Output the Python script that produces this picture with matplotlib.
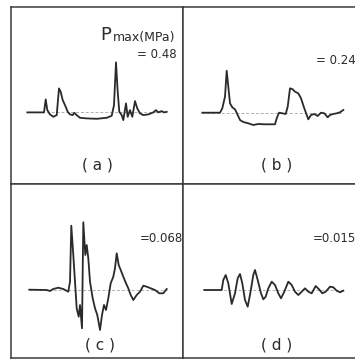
import matplotlib
matplotlib.use('Agg')
import numpy as np
import matplotlib.pyplot as plt

# Pressure traces
# t: time offset inside the panel, p: amplitude relative to the baseline
t_a = [16.3, 33, 34.7, 36.3, 39, 42.3, 45.7, 48, 49.7, 51.7, 54, 56.7, 59, 61.7,
       63.3, 65.7, 69, 75.7, 85.7, 95.7, 100.7, 103, 105, 106.7, 108.3, 110.7,
       112.3, 115, 116.7, 119, 121.3, 124, 126.3, 129, 132.3, 137.3, 142.3, 145,
       147.3, 150.7, 153, 155.7]
p_a = [0, 0, 13, 2.3, -2, -4.4, -2.7, 24, 20.6, 12.3, 7.3, 0.6, -2, -2.7,
       -0.4, -2.7, -5.4, -6, -6.4, -5.4, -3.4, 7.3, 50, 20.6, 0.6, -2.7,
       -7.7, 9, -4.4, 2.3, -4.4, 11.3, 4, -1, -2.7, -2, 0, 2.3,
       0, 1.3, 0, 0.6]

t_b = [19.3, 37, 39.3, 42, 43.7, 45.3, 47, 49.3, 52, 54.7, 57, 60.3, 65.3, 70.3,
       75.3, 82, 92, 93.7, 96, 99.3, 102.7, 104.7, 107, 109.7, 112, 115.3, 118,
       121.3, 125.3, 128, 131.3, 134.7, 138, 141.3, 144.7, 147, 150.3, 153.7,
       157, 160.3]
p_b = [0, 0, 4.4, 16, 42, 26, 9.4, 5.4, 3.4, -2.3, -7.3, -9.3, -10.6, -12.3,
       -11.3, -11.6, -11.6, -5.6, 0, -0.6, -1.3, 6, 24.4, 23.4, 21, 19.4, 14.4,
       4.4, -6.6, -2.3, -1.3, -3.3, 0, -0.6, -4.6, -2.3, -1.3, -0.6,
       0.4, 2.7]

t_c = [18.3, 35.7, 39, 42.3, 47.3, 52.3, 57.3, 59, 60.3, 62.3, 64, 65.7, 67.7,
       69, 71, 72.3, 74.3, 75.7, 77.3, 79, 81.7, 84, 86.3, 89, 91, 93, 95, 97.3,
       99.7, 102.3, 104, 105.7, 107.7, 109.7, 112.3, 115, 117.3, 119.7, 122.3,
       125.7, 129, 132.3, 135.7, 139.7, 144, 148.3, 152.3, 155.7]
p_c = [0, -0.3, -1.3, 0.7, 2, 0.7, -2, 8, 64, 34.7, 8, -18.6, -27,
       -15.3, -38.6, 67.4, 34.7, 44.7, 31.4, 8, -8.6, -18.6, -25.3, -40.3, -25.3,
       -15.3, -20.3, -8.6, 6.4, 13, 21.4, 36.4, 24.7, 19.7, 13, 6.4, 1.4, -5.3,
       -10.3, -5.3, -2, 4, 3, 1.4, -0.3, -3.6, -3.6, 0.7]

t_d = [21.3, 38.7, 40.3, 42.7, 45.3, 48.7, 52, 54.7, 57, 59.3, 62, 64.7, 67.3,
       70.3, 72, 74.7, 78, 80.3, 82.7, 85.3, 88.7, 92, 95.3, 98, 101.3, 105.3,
       108.7, 112, 115.3, 118.7, 122, 125.3, 128.7, 132.7, 136, 139.3, 142.7,
       147, 150.3, 153.7, 157, 160.3]
p_d = [0, 0, 10, 15, 6.7, -14, -3.3, 11.7, 16, 6.7, -10, -16.7, -3.3,
       15, 20, 10, -3.3, -9.3, -6.7, 1.7, 8.3, 5, -3.3, -8.3, -1.7, 8.3,
       5, -1.7, -5, -1.7, 1.7, -1.7, -3.3, 4, 0.7, -3.3, -1.7,
       3.3, 2.7, -0.7, -2.3, -0.7]

labels = ['( a )', '( b )', '( c )', '( d )']
pmax = ['= 0.48', '= 0.24', '=0.068', '=0.015']

W, H = 355, 359
fig = plt.figure(figsize=(W / 100, H / 100), dpi=100)
fig.patch.set_facecolor('white')

ink = '#2a2a2a'

def panel(x0, x1, y0, y1, base):
    # panel box in pixel units, base = pixel row of the zero line
    ax = fig.add_axes([x0 / W, 1 - y1 / H, (x1 - x0) / W, (y1 - y0) / H])
    ax.set_xlim(0, x1 - x0)
    ax.set_ylim(base - y1, base - y0)
    ax.set_xticks([])
    ax.set_yticks([])
    for s in ax.spines.values():
        s.set_color('#3a3a3a')
        s.set_linewidth(1.1)
    return ax

axes = [
    panel(11, 183, 7, 184, 112.4),
    panel(183, 366, 7, 184, 112.7),
    panel(11, 183, 184, 358, 289.7),
    panel(183, 366, 184, 358, 290.0),
]
traces = [(t_a, p_a), (t_b, p_b), (t_c, p_c), (t_d, p_d)]

for ax, (t, p) in zip(axes, traces):
    t = np.array(t)
    p = np.array(p)
    ax.plot([t[0], t[-1]], [0, 0], color='#b0b0b0', lw=0.7,
            ls=(0, (3, 2)), zorder=1)
    ax.plot(t, p, color=ink, lw=1.3, zorder=2, solid_joinstyle='round')

def ftext(x, y, s, **kw):
    fig.text(x / W, 1 - y / H, s, color=ink, **kw)

# Pmax header
ftext(106, 35, 'P', fontsize=13, ha='center', va='center')
ftext(113, 38, 'max(MPa)', fontsize=9, ha='left', va='center')

ftext(177, 55, pmax[0], fontsize=8.5, ha='right', va='center')
ftext(316, 60, pmax[1], fontsize=8.5, ha='left', va='center')
ftext(140, 238, pmax[2], fontsize=8.5, ha='left', va='center')
ftext(313, 238, pmax[3], fontsize=8.5, ha='left', va='center')

ftext(97, 165, labels[0], fontsize=11, ha='center', va='center')
ftext(277, 165, labels[1], fontsize=11, ha='center', va='center')
ftext(100, 345, labels[2], fontsize=11, ha='center', va='center')
ftext(277, 345, labels[3], fontsize=11, ha='center', va='center')

fig.savefig('out.png', dpi=100, facecolor='white')
